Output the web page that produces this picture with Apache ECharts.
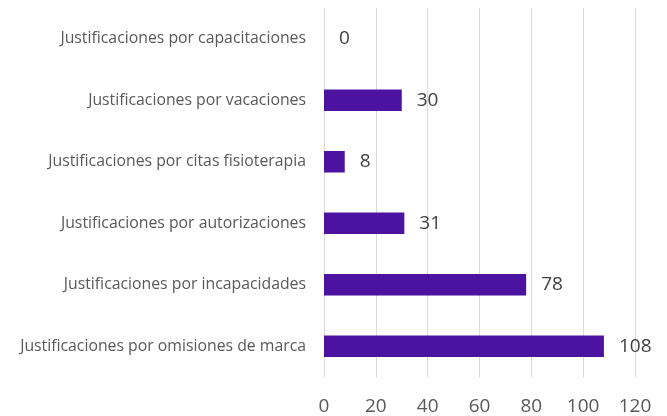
<!DOCTYPE html>
<html>
<head>
<meta charset="utf-8">
<script src="https://cdn.jsdelivr.net/npm/echarts@6/dist/echarts.min.js"></script>
<style>
html,body{margin:0;padding:0;background:#fff;}
#chart{width:667px;height:416px;}
</style>
</head>
<body>
<div id="chart"></div>
<script>
// categorias de abajo hacia arriba
var categorias = [
	'Justificaciones por omisiones de marca',
	'Justificaciones por incapacidades',
	'Justificaciones por autorizaciones',
	'Justificaciones por citas fisioterapia',
	'Justificaciones por vacaciones',
	'Justificaciones por capacitaciones'
];
var valores = [108, 78, 31, 8, 30, 0];
var ejeMin = 0, ejeMax = 120, ejePaso = 20;

var myChart = echarts.init(document.getElementById('chart'));
var option = {
	animation: false,
	grid: {
		left: 324,
		right: 32,
		top: 8,
		bottom: 39,
		containLabel: false
	},
	xAxis: {
		type: 'value',
		min: ejeMin,
		max: ejeMax,
		interval: ejePaso,
		axisLine: { show: false },
		axisTick: { show: false },
		axisLabel: {
			color: '#595959',
			fontSize: 19,
			fontFamily: 'Open Sans',
			margin: 20
		},
		splitLine: {
			show: true,
			lineStyle: { color: '#d9d9d9', width: 1 }
		}
	},
	yAxis: {
		type: 'category',
		data: categorias,
		axisLine: { show: false },
		axisTick: { show: false },
		axisLabel: {
			color: '#595959',
			fontSize: 15.8,
			fontFamily: 'Open Sans',
			margin: 18
		}
	},
	series: [
		{
			type: 'bar',
			data: valores,
			barWidth: '35%',
			itemStyle: { color: '#4b13a0' },
			label: {
				show: true,
				position: 'right',
				distance: 15,
				color: '#404040',
				fontSize: 19,
				fontFamily: 'Open Sans'
			}
		}
	]
};
myChart.setOption(option);
</script>
</body>
</html>
